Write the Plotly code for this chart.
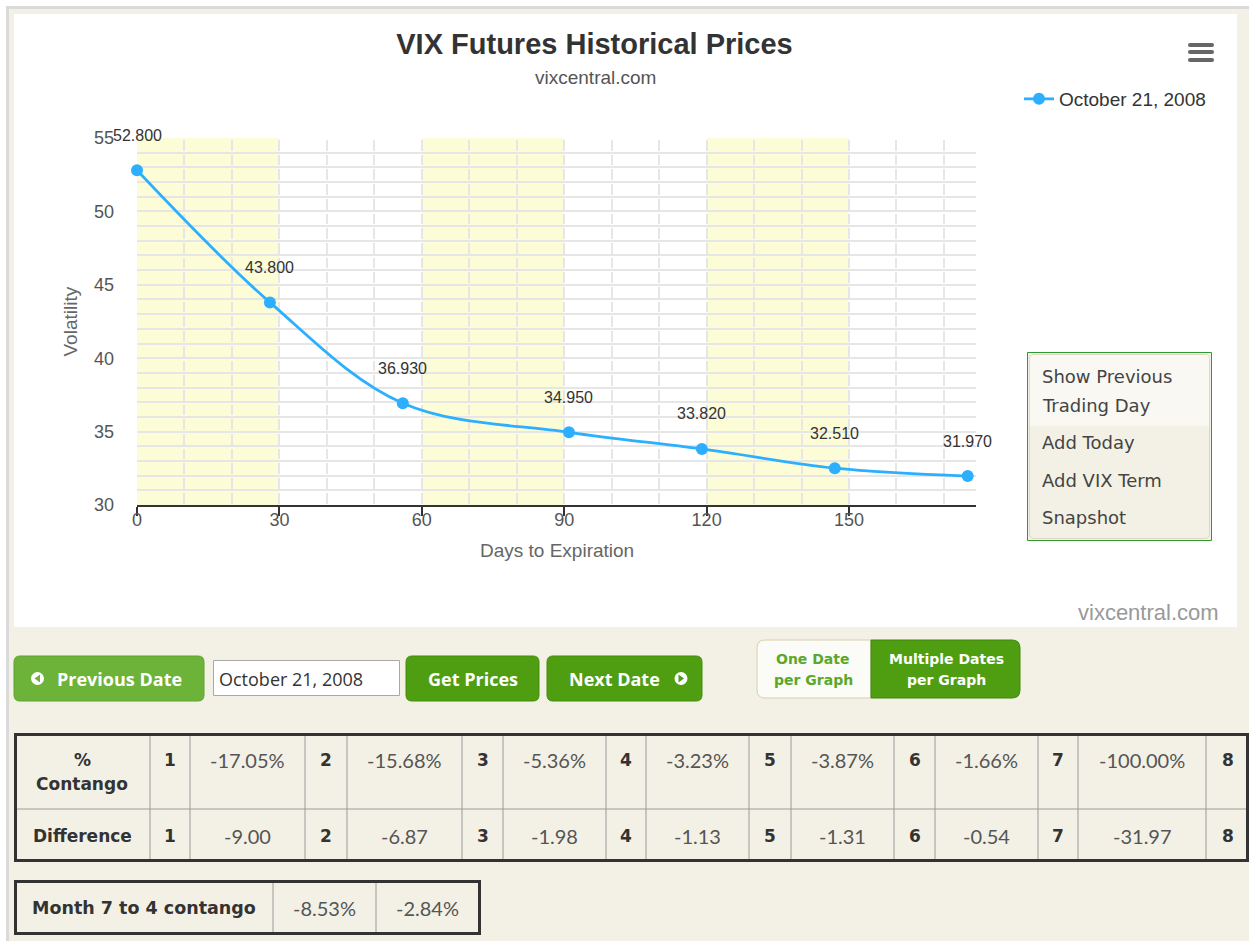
import plotly.graph_objects as go

W, H = 1249, 941

# ---------------- data ----------------
DATE_LABEL = "October 21, 2008"
DAYS = [0, 28, 56, 91, 119, 147, 175]
PRICES = [52.80, 43.80, 36.93, 34.95, 33.82, 32.51, 31.97]
X_TICKS = [0, 30, 60, 90, 120, 150]
Y_TICKS = [30, 35, 40, 45, 50, 55]
BAND_STARTS = [0, 60, 120]
BAND_WIDTH = 30
MONTHS = ["1", "2", "3", "4", "5", "6", "7", "8"]
CONTANGO_PCT = ["-17.05%", "-15.68%", "-5.36%", "-3.23%", "-3.87%", "-1.66%", "-100.00%"]
DIFFERENCE = ["-9.00", "-6.87", "-1.98", "-1.13", "-1.31", "-0.54", "-31.97"]
M74_LABEL = "Month 7 to 4 contango"
M74_VALUES = ["-8.53%", "-2.84%"]
MENU_LINES = ["Show Previous", "Trading Day", "Add Today", "Add VIX Term", "Snapshot"]

# ---------------- helpers ----------------
CHART_FONT = "Liberation Sans, Arial, sans-serif"
UI_FONT = "DejaVu Sans, sans-serif"
BTN_FONT = "Open Sans, sans-serif"
VAL_FONT = "Lato, sans-serif"
BEIGE = "#f3f1e6"
GREEN = "#4f9e12"
GREEN_L = "#6db33a"
GRID = "#e6e6e6"
BLUE = "#2caffe"


def px(x):
    return x / W


def py(y):
    return 1 - y / H


shapes = []
annotations = []


def rect(x0, y0, x1, y1, fill=None, line=None, lw=0, layer="below"):
    shapes.append(dict(type="rect", xref="paper", yref="paper",
                       x0=px(x0), x1=px(x1), y0=py(y1), y1=py(y0),
                       fillcolor=fill or "rgba(0,0,0,0)",
                       line=dict(color=line or "rgba(0,0,0,0)", width=lw),
                       layer=layer))


def hline(x0, x1, y, color, lw):
    shapes.append(dict(type="line", xref="paper", yref="paper",
                       x0=px(x0), x1=px(x1), y0=py(y), y1=py(y),
                       line=dict(color=color, width=lw), layer="above"))


def vline(x, y0, y1, color, lw):
    shapes.append(dict(type="line", xref="paper", yref="paper",
                       x0=px(x), x1=px(x), y0=py(y0), y1=py(y1),
                       line=dict(color=color, width=lw), layer="above"))


def rrect(x0, y0, x1, y1, r, fill, line=None, lw=0, corners=(1, 1, 1, 1)):
    tl, tr, br, bl = [r * c for c in corners]
    p = (f"M {px(x0 + tl)},{py(y0)} L {px(x1 - tr)},{py(y0)} "
         f"Q {px(x1)},{py(y0)} {px(x1)},{py(y0 + tr)} "
         f"L {px(x1)},{py(y1 - br)} Q {px(x1)},{py(y1)} {px(x1 - br)},{py(y1)} "
         f"L {px(x0 + bl)},{py(y1)} Q {px(x0)},{py(y1)} {px(x0)},{py(y1 - bl)} "
         f"L {px(x0)},{py(y0 + tl)} Q {px(x0)},{py(y0)} {px(x0 + tl)},{py(y0)} Z")
    shapes.append(dict(type="path", xref="paper", yref="paper", path=p,
                       fillcolor=fill, line=dict(color=line or "rgba(0,0,0,0)", width=lw),
                       layer="above"))


def circle(cx, cy, r, fill):
    shapes.append(dict(type="circle", xref="paper", yref="paper",
                       x0=px(cx - r), x1=px(cx + r), y0=py(cy + r), y1=py(cy - r),
                       fillcolor=fill, line=dict(width=0), layer="above"))


def tri(points, fill):
    p = "M " + " L ".join(f"{px(a)},{py(b)}" for a, b in points) + " Z"
    shapes.append(dict(type="path", xref="paper", yref="paper", path=p,
                       fillcolor=fill, line=dict(width=0), layer="above"))


def text(x, y, s, size, color, family, bold=False, xanchor="center", yanchor="middle", angle=0):
    annotations.append(dict(xref="paper", yref="paper", x=px(x), y=py(y), text=s,
                            showarrow=False, xanchor=xanchor, yanchor=yanchor,
                            textangle=angle,
                            font=dict(size=size, color=color, family=family,
                                      weight="bold" if bold else "normal")))


# ---------------- page background ----------------
rect(7.5, 7.5, W + 20, H + 20, fill=BEIGE, line="#dadada", lw=3)
rect(14, 14, 1237, 627, fill="white")

# yellow bands in the plot area
for b in BAND_STARTS:
    shapes.append(dict(type="rect", xref="x", yref="y domain", x0=b, x1=b + BAND_WIDTH,
                       y0=0, y1=1, fillcolor="#fcfcd6", line=dict(width=0), layer="below"))

# hamburger icon
for yc in (45, 52, 60):
    rrect(1188, yc - 2, 1214, yc + 2, 2, "#666666")

# subtitle / credits / axis titles
text(595, 78, "vixcentral.com", 19, "#555555", CHART_FONT)
text(1221, 612, "vixcentral.com", 22, "#999999", CHART_FONT, xanchor="right")
text(556.5, 550, "Days to Expiration", 19, "#666666", CHART_FONT)
text(70, 321.5, "Volatility", 19, "#666666", CHART_FONT, angle=-90)

# data labels above points
for d, v in zip(DAYS, PRICES):
    annotations.append(dict(xref="x", yref="y", x=d, y=v, yshift=35, text=f"{v:.3f}",
                            showarrow=False, xanchor="center", yanchor="middle",
                            font=dict(size=16, color="#333333", family=CHART_FONT)))

# ---------------- context menu box ----------------
rect(1027.5, 352.5, 1211.5, 540.5, fill=BEIGE, line="#2f9a2f", lw=1, layer="above")
rrect(1029.5, 354.5, 1209.5, 538.5, 5, "#f3f1e5", line="#ddd8c6", lw=1)
rrect(1030, 355, 1209, 426, 4, "#f9f8f3", corners=(1, 1, 0, 0))
for s, yy in zip(MENU_LINES, [376, 405, 443, 480, 517]):
    text(1040, yy, s, 18, "#444444", UI_FONT, xanchor="left")

# ---------------- buttons ----------------
rrect(14, 656, 204, 701, 6, GREEN_L, line="#5ea22e", lw=1)
circle(37.5, 678.5, 6.5, "white")
tri([(40, 674.5), (34.5, 678.5), (40, 682.5)], GREEN_L)
text(55, 678.5, "Previous Date", 18, "white", BTN_FONT, bold=True, xanchor="left")

rect(213.5, 660.5, 399.5, 695.5, fill="white", line="#a8a8a8", lw=1, layer="above")
text(217, 678.5, DATE_LABEL, 18, "#333333", BTN_FONT, xanchor="left")

rrect(406, 656, 539, 701, 6, GREEN, line="#438d0b", lw=1)
text(472.5, 678.5, "Get Prices", 18, "white", BTN_FONT, bold=True)

rrect(547, 656, 702, 701, 6, GREEN, line="#438d0b", lw=1)
text(567, 678.5, "Next Date", 18, "white", BTN_FONT, bold=True, xanchor="left")
circle(681, 678.5, 6.5, "white")
tri([(678.5, 674.5), (684, 678.5), (678.5, 682.5)], GREEN)

# toggle
rrect(757, 640, 871, 698, 8, "#fbfbf7", line="#d9cfae", lw=1, corners=(1, 0, 0, 1))
rrect(871, 640, 1020, 698, 8, GREEN, line="#3f880a", lw=1, corners=(0, 1, 1, 0))
text(813, 659, "One Date", 14, "#5aa82a", UI_FONT, bold=True)
text(813, 680, "per Graph", 14, "#5aa82a", UI_FONT, bold=True)
text(946, 659, "Multiple Dates", 14, "white", UI_FONT, bold=True)
text(946, 680, "per Graph", 14, "white", UI_FONT, bold=True)

# ---------------- contango table ----------------
COLS = [14, 150, 190, 305, 347, 462, 503, 606, 646, 749, 791, 894, 935, 1038, 1078, 1206, 1249]
T_TOP, T_MID, T_BOT = 733, 809, 862
hline(14, 1249, T_MID, "#9a9a9a", 1)
for c in COLS[1:-1]:
    vline(c, T_TOP, T_BOT, "#9a9a9a", 1)
rect(15.5, T_TOP + 1.5, 1247.5, T_BOT - 1.5, line="#333333", lw=3, layer="above")

text(82, 760, "%", 17, "#333333", UI_FONT, bold=True)
text(82, 784, "Contango", 17, "#333333", UI_FONT, bold=True)
text(82, 836, "Difference", 17, "#333333", UI_FONT, bold=True)
for i, m in enumerate(MONTHS):
    cx = (COLS[1 + 2 * i] + COLS[2 + 2 * i]) / 2
    text(cx, 760, m, 17, "#333333", UI_FONT, bold=True)
    text(cx, 836, m, 17, "#333333", UI_FONT, bold=True)
for i, (a, b) in enumerate(zip(CONTANGO_PCT, DIFFERENCE)):
    cx = (COLS[2 + 2 * i] + COLS[3 + 2 * i]) / 2
    text(cx, 760, a, 20, "#555555", VAL_FONT)
    text(cx, 836, b, 20, "#555555", VAL_FONT)

# month 7 to 4 table
C2 = [14, 273, 376, 480]
for c in C2[1:-1]:
    vline(c, 880, 935, "#9a9a9a", 1)
rect(15.5, 881.5, 479.5, 933.5, line="#333333", lw=3, layer="above")
text((C2[0] + C2[1]) / 2, 908, M74_LABEL, 17.5, "#333333", UI_FONT, bold=True)
for i, v in enumerate(M74_VALUES):
    text((C2[1 + i] + C2[2 + i]) / 2, 908, v, 20, "#555555", VAL_FONT)

# ---------------- figure ----------------
DASH = "0px,2px,10.7px,2px"

fig = go.Figure()
fig.add_trace(go.Scatter(
    x=DAYS, y=PRICES, mode="lines+markers", name=DATE_LABEL,
    line=dict(color=BLUE, width=2.8, shape="spline", smoothing=1.0),
    marker=dict(size=12, color=BLUE), cliponaxis=False, hoverinfo="skip"))

fig.update_layout(
    width=W, height=H, margin=dict(l=0, r=0, t=0, b=0, pad=0, autoexpand=False),
    paper_bgcolor="white", plot_bgcolor="white",
    title=dict(text="VIX Futures Historical Prices", x=px(594.5), y=py(44),
               xanchor="center", yanchor="middle", xref="paper", yref="paper",
               font=dict(family=CHART_FONT, size=29, color="#333333", weight="bold")),
    showlegend=True,
    legend=dict(x=px(1019), y=py(80), xanchor="left", yanchor="top",
                bgcolor="rgba(0,0,0,0)", font=dict(size=19, color="#333333", family=CHART_FONT)),
    xaxis=dict(domain=[px(137), px(976)], range=[0, 176.75], tickvals=X_TICKS,
               ticks="outside", ticklen=9, tickwidth=1.5, tickcolor="#333333",
               showline=True, linecolor="#333333", linewidth=1.5,
               showgrid=True, gridcolor=GRID, gridwidth=1.5, griddash=DASH,
               minor=dict(dtick=10, tick0=0, showgrid=True, gridcolor=GRID, gridwidth=1.5,
                          griddash=DASH, ticks=""),
               zeroline=False, automargin=False,
               tickfont=dict(size=18, color="#555555", family=CHART_FONT),
               ticklabelstandoff=-11, fixedrange=True),
    yaxis=dict(domain=[py(505), py(138)], range=[30, 55], tickvals=Y_TICKS,
               ticks="", showline=False, showgrid=True, gridcolor=GRID, gridwidth=1.5,
               minor=dict(dtick=1, tick0=30, showgrid=True, gridcolor=GRID, gridwidth=1.5, ticks=""),
               zeroline=False, automargin=False,
               tickfont=dict(size=18, color="#555555", family=CHART_FONT),
               ticklabelstandoff=22, fixedrange=True),
    shapes=shapes, annotations=annotations,
)

fig.write_html("out.html", config={"displayModeBar": False},
               post_script="document.body.style.margin='0';document.body.style.overflow='hidden';")
